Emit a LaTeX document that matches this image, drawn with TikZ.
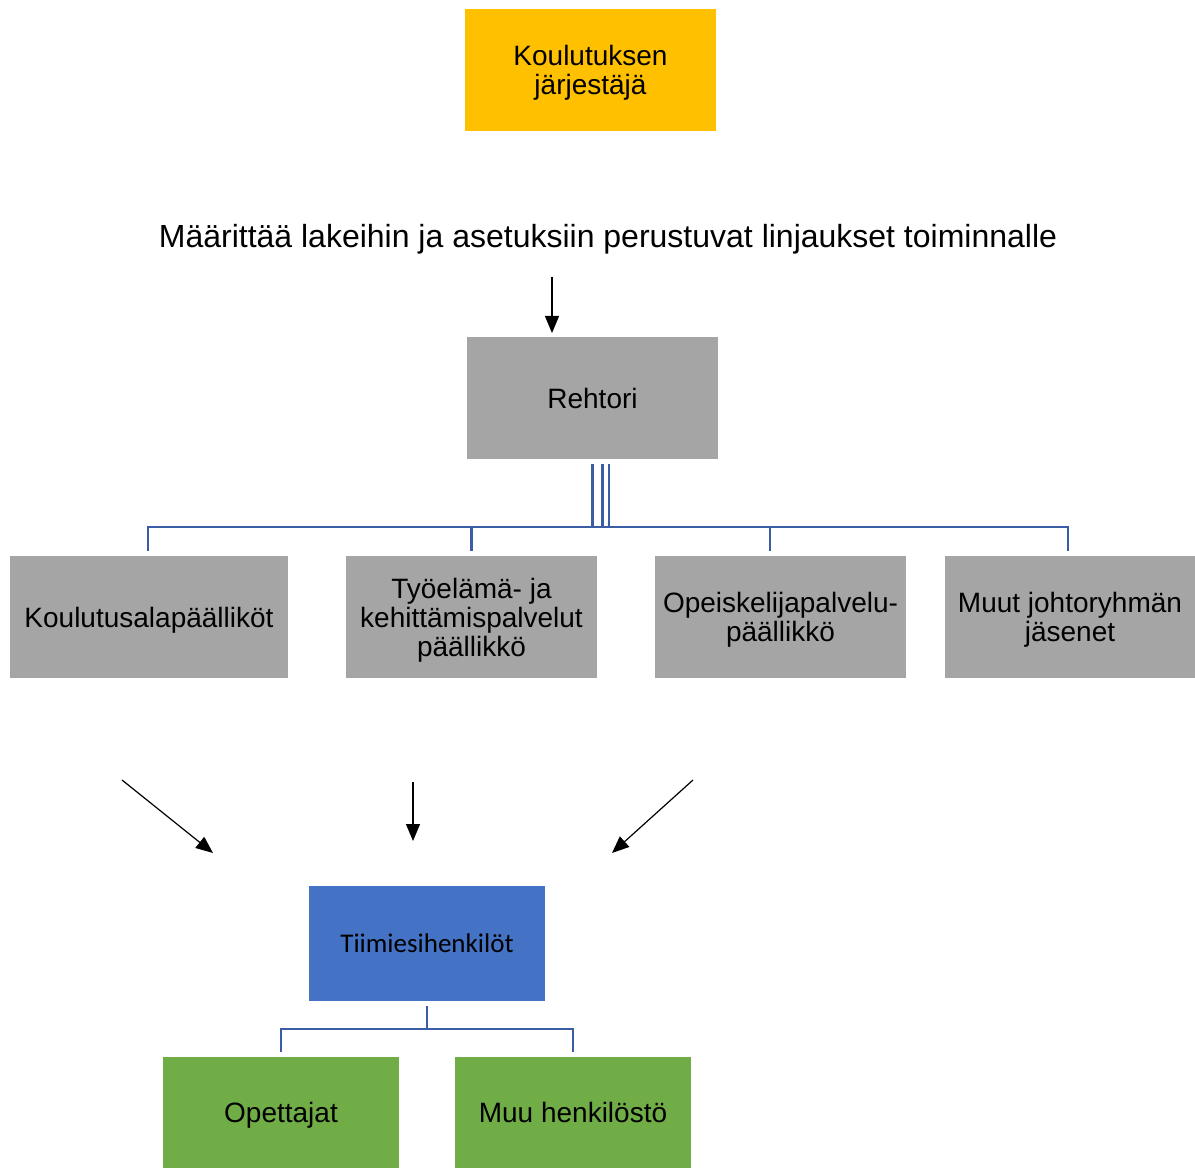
\documentclass[tikz,border=0pt]{standalone}
\usepackage{fontspec}
\setmainfont{Liberation Sans}
\newfontfamily\calfont{Carlito}
\usetikzlibrary{arrows.meta}
\definecolor{yelc}{HTML}{FFC000}
\definecolor{grayc}{HTML}{A5A5A5}
\definecolor{bluec}{HTML}{4472C4}
\definecolor{greenc}{HTML}{70AD47}
\definecolor{connc}{HTML}{3A5DA5}
\begin{document}
\begin{tikzpicture}[x=1pt,y=-1pt,
  box/.style={rectangle, draw=none, outer sep=5pt, align=center, inner sep=2pt,
    text depth=0pt, font=\fontsize{28}{29}\selectfont},
  conn/.style={draw=connc, line width=2.4pt},
  arr/.style={line width=1.2pt, -{Triangle[length=17pt,width=14pt]}}]
\useasboundingbox (0,0) rectangle (1195,1169);
\node[box, fill=yelc, minimum width=251pt, minimum height=122pt] (kj) at (590.5,70) {Koulutuksen\\järjestäjä};
\node[inner sep=0pt, text depth=0pt, font=\fontsize{32}{34}\selectfont] (txt) at (608,236) {Määrittää lakeihin ja asetuksiin perustuvat linjaukset toiminnalle};
\node[box, fill=grayc, minimum width=251pt, minimum height=122pt] (r) at (592.5,398) {Rehtori};
\node[box, fill=grayc, minimum width=278pt, minimum height=122pt] (k1) at (149,617) {Koulutusalapäälliköt};
\node[box, fill=grayc, minimum width=251pt, minimum height=122pt] (k2) at (471.5,617) {Työelämä- ja\\kehittämispalvelut\\päällikkö};
\node[box, fill=grayc, minimum width=251pt, minimum height=122pt] (k3) at (780.5,617) {Opeiskelijapalvelu-\\päällikkö};
\node[box, fill=grayc, minimum width=250pt, minimum height=122pt] (k4) at (1070,617) {Muut johtoryhmän\\jäsenet};
\node[box, fill=bluec, minimum width=236pt, minimum height=115pt, font=\calfont\fontsize{27}{29}\selectfont] (t) at (427,943.5) {Tiimiesihenkilöt};
\node[box, fill=greenc, minimum width=236pt, minimum height=111pt] (o) at (281,1112.5) {Opettajat};
\node[box, fill=greenc, minimum width=236pt, minimum height=111pt] (m) at (573,1112.5) {Muu henkilöstö};
\coordinate (bus) at (0,527);
\coordinate (bus2) at (0,1029);
\draw[conn] (r.south) -- (r.south |- bus);
\draw[conn] ([xshift=10pt]r.south) -- ([xshift=10pt]r.south |- bus);
\draw[conn] ([xshift=16.5pt]r.south) -- ([xshift=16.5pt]r.south |- bus);
\draw[conn] ([xshift=-1pt]k1.north) -- ([xshift=-1pt]k1.north |- bus) -- ([xshift=-2pt]k4.north |- bus) -- ([xshift=-2pt]k4.north);
\draw[conn] (k2.north) -- (k2.north |- bus);
\draw[conn] ([xshift=-10.5pt]k3.north) -- ([xshift=-10.5pt]k3.north |- bus);
\draw[conn] (t.south) -- (t.south |- bus2);
\draw[conn] (o.north) -- (o.north |- bus2) -- (m.north |- bus2) -- (m.north);
\coordinate (a0s) at (552,277);
\coordinate (a0e) at (552,333);
\coordinate (a1s) at (122,780);
\coordinate (a1e) at (213,853);
\coordinate (a2s) at (413,782);
\coordinate (a2e) at (413,841);
\coordinate (a3s) at (693,780);
\coordinate (a3e) at (612,853);
\draw[arr] (a0s) -- (a0e);
\draw[arr] (a1s) -- (a1e);
\draw[arr] (a2s) -- (a2e);
\draw[arr] (a3s) -- (a3e);
\end{tikzpicture}
\end{document}
